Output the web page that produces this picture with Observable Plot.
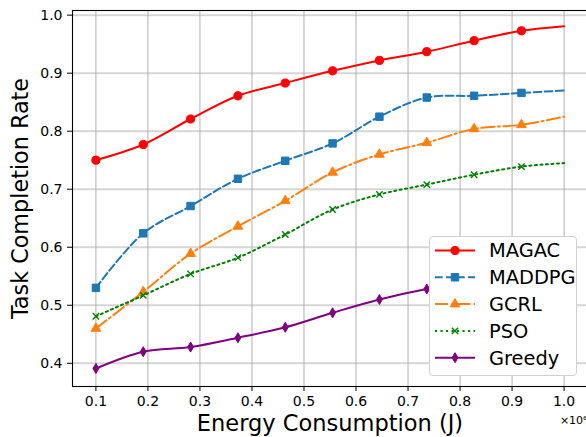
<!DOCTYPE html>
<html><head><meta charset="utf-8">
<script src="https://cdn.jsdelivr.net/npm/d3@7"></script>
<script src="https://cdn.jsdelivr.net/npm/@observablehq/plot@0.6"></script>
<style>
body{margin:0;background:#fff;}
#wrap{position:relative;width:586px;height:437px;overflow:hidden;font-family:"DejaVu Sans",sans-serif;}
#legend{position:absolute;left:429px;top:236px;width:148px;height:140px;box-sizing:border-box;background:#fff;border:1px solid #d0d0d0;border-radius:4px;}
</style></head><body><div id="wrap"><div id="legend"></div></div>
<script>
// ---- data (energy in units of 1e6 J) ----
const energy = [0.1, 0.191, 0.282, 0.373, 0.464, 0.555, 0.645, 0.736, 0.827, 0.918, 1.0];
const magac  = [0.750, 0.777, 0.821, 0.861, 0.883, 0.904, 0.922, 0.937, 0.956, 0.973, 0.981];
const maddpg = [0.530, 0.624, 0.671, 0.718, 0.749, 0.779, 0.825, 0.858, 0.861, 0.866, 0.870];
const gcrl   = [0.460, 0.523, 0.589, 0.636, 0.680, 0.729, 0.760, 0.780, 0.804, 0.811, 0.825];
const pso    = [0.481, 0.517, 0.554, 0.582, 0.622, 0.665, 0.691, 0.708, 0.725, 0.739, 0.745];
const greedy = [0.391, 0.420, 0.428, 0.444, 0.462, 0.487, 0.510, 0.528, 0.541, 0.553, 0.562];
const seriesNames = ["MAGAC", "MADDPG", "GCRL", "PSO", "Greedy"];
const seriesValues = [magac, maddpg, gcrl, pso, greedy];
const xTicks = [0.1, 0.2, 0.3, 0.4, 0.5, 0.6, 0.7, 0.8, 0.9, 1.0];
const yTicks = [0.4, 0.5, 0.6, 0.7, 0.8, 0.9, 1.0];
const markedPoints = 10; // the last (end) point carries no marker

// ---- styles ----
const thinDiamond = {draw(ctx, size) {
  const r = Math.sqrt(size / Math.PI);
  ctx.moveTo(0, -r * 1.2); ctx.lineTo(r * 0.7, 0); ctx.lineTo(0, r * 1.2); ctx.lineTo(-r * 0.7, 0); ctx.closePath();
}};
const styles = {
  MAGAC:  {color: "#ff0000", dash: null,             symbol: "circle",   r: 4.1, fill: "#ff0000", sw: 1},
  MADDPG: {color: "#1f77b4", dash: "7.7,3.3",        symbol: "square",   r: 4.2, fill: "#1f77b4", sw: 1},
  GCRL:   {color: "#ff7f0e", dash: "13.3,3.3,2.1,3.3", symbol: "triangle", r: 3.6, fill: "#ff7f0e", sw: 1},
  PSO:    {color: "#008000", dash: "2.1,3.4",        symbol: "times",    r: 3.0, fill: "none",    sw: 1.4},
  Greedy: {color: "#800080", dash: null,             symbol: thinDiamond, r: 4.2, fill: "#800080", sw: 1}
};

const rows = [];
seriesNames.forEach((name, si) => {
  energy.forEach((e, i) => rows.push({series: name, energy: e, rate: seriesValues[si][i], marked: i < markedPoints}));
});

const marks = [
  Plot.ruleY(yTicks, {stroke: "#d6d6d6", strokeWidth: 2}),
  Plot.ruleX(xTicks, {stroke: "#b0b0b0", strokeWidth: 1})
];
seriesNames.forEach(name => {
  const s = styles[name];
  const d = rows.filter(r => r.series === name);
  marks.push(Plot.line(d, {x: "energy", y: "rate", stroke: s.color, strokeWidth: 2, strokeDasharray: s.dash, curve: "catmull-rom"}));
  marks.push(Plot.dot(d.filter(r => r.marked), {x: "energy", y: "rate", symbol: s.symbol, r: s.r, fill: s.fill, stroke: s.color, strokeWidth: s.sw}));
});
marks.push(
  Plot.frame({stroke: "#000", strokeWidth: 1.1}),
  Plot.axisX(xTicks, {tickSize: 5, tickPadding: 5, tickFormat: d3.format(".1f"), fontSize: 14, label: null, stroke: "#000", fill: "#000"}),
  Plot.axisY(yTicks, {tickSize: 5, tickPadding: 5, tickFormat: d3.format(".1f"), fontSize: 14, label: null, stroke: "#000", fill: "#000"}),
  Plot.text(["Task Completion Rate"], {frameAnchor: "left", textAnchor: "middle", dx: -52, rotate: -90, fontSize: 22.3, lineAnchor: "middle", fill: "#000"}),
  Plot.text(["Energy Consumption (J)"], {frameAnchor: "bottom", textAnchor: "middle", dy: 37, fontSize: 22.5, lineAnchor: "middle", fill: "#000"}),
  Plot.text(["×10⁶"], {frameAnchor: "bottom-right", textAnchor: "end", dy: 34, fontSize: 11, lineAnchor: "middle", fill: "#000"})
);

const chart = Plot.plot({
  width: 586, height: 437,
  marginLeft: 72, marginRight: -1, marginTop: 10, marginBottom: 51,
  style: {fontFamily: "DejaVu Sans", fontSize: "14px", background: "white", color: "black", overflow: "visible"},
  x: {domain: [0.055, 1.045]},
  y: {domain: [0.36, 1.008]},
  marks
});
const wrap = document.getElementById("wrap");
wrap.insertBefore(chart, wrap.firstChild);

// ---- legend (HTML overlay) ----
const symMap = {circle: d3.symbolCircle, square: d3.symbolSquare, triangle: d3.symbolTriangle, times: d3.symbolTimes};
const lg = d3.select("#legend").append("svg").attr("width", 146).attr("height", 138)
  .style("position", "absolute").style("left", "0px").style("top", "0px");
seriesNames.forEach((name, i) => {
  const s = styles[name];
  const g = lg.append("g").attr("transform", `translate(0,${13.5 + 26.8 * i})`);
  g.append("line").attr("x1", 5).attr("x2", 45).attr("y1", 0).attr("y2", 0)
    .attr("stroke", s.color).attr("stroke-width", 2).attr("stroke-dasharray", s.dash);
  const type = typeof s.symbol === "string" ? symMap[s.symbol] : s.symbol;
  g.append("path").attr("transform", "translate(25,0)")
    .attr("d", d3.symbol(type, Math.PI * s.r * s.r)())
    .attr("fill", s.fill).attr("stroke", s.color).attr("stroke-width", s.sw);
  g.append("text").attr("x", 59).attr("y", 0).attr("dy", "0.36em")
    .attr("font-size", 19.4).attr("font-family", "DejaVu Sans").attr("fill", "#000").text(name);
});
</script>
</body></html>
